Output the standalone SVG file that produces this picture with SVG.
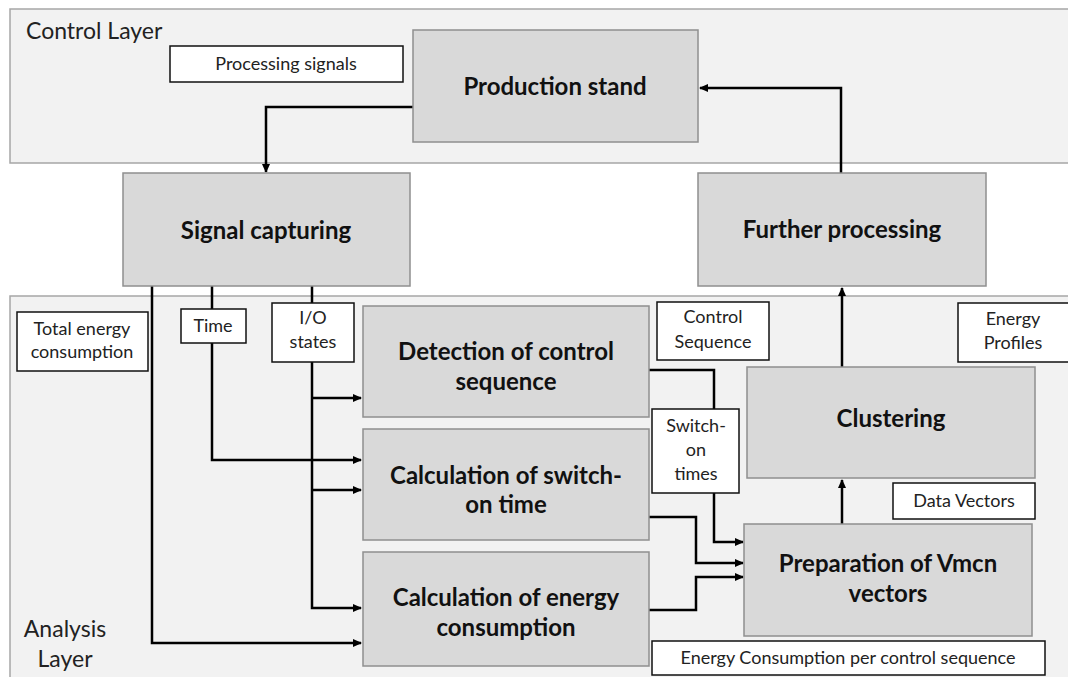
<svg xmlns="http://www.w3.org/2000/svg" width="1068" height="677" viewBox="0 0 1068 677">
  <defs>
    <marker id="arrow" markerWidth="9" markerHeight="8" refX="8" refY="4" orient="auto" markerUnits="userSpaceOnUse">
      <path d="M0,0 L9,4 L0,8 Z" fill="#000"/>
    </marker>
    <style>
      .layer { fill: #f2f2f2; stroke: #a6a6a6; stroke-width: 1.5; }
      .layer-title { font-family: Lato, "Liberation Sans", sans-serif; font-size: 23px; fill: #222; }
      .node rect { fill: #d9d9d9; stroke: #8f8f8f; stroke-width: 1.5; }
      .node text { font-family: Lato, "Liberation Sans", sans-serif; font-weight: bold; font-size: 24px; fill: #111; text-anchor: middle; }
      .tag rect { fill: #fff; stroke: #111; stroke-width: 1.5; }
      .tag text { font-family: Lato, "Liberation Sans", sans-serif; font-size: 18px; fill: #222; text-anchor: middle; }
      .conn path { fill: none; stroke: #000; stroke-width: 2.5; }
    </style>
  </defs>

  <rect width="1068" height="677" fill="#fff"/>

  <!-- layers -->
  <g id="control-layer">
    <rect class="layer" x="10" y="9" width="1070" height="154"/>
    <text class="layer-title" x="26" y="39">Control Layer</text>
  </g>
  <g id="analysis-layer">
    <rect class="layer" x="10" y="296" width="1070" height="400"/>
    <text class="layer-title" x="65" y="637" text-anchor="middle">Analysis</text>
    <text class="layer-title" x="65" y="667" text-anchor="middle">Layer</text>
  </g>

  <!-- connectors -->
  <g id="connectors" class="conn">
    <path d="M413,107 H266 V172" marker-end="url(#arrow)"/>
    <path d="M841,173 V88 H700" marker-end="url(#arrow)"/>
    <path d="M842,367 V288" marker-end="url(#arrow)"/>
    <path d="M842,524 V480" marker-end="url(#arrow)"/>
    <path d="M152,286 V643 H361" marker-end="url(#arrow)"/>
    <path d="M212,286 V460 H361" marker-end="url(#arrow)"/>
    <path d="M312,286 V608 H361" marker-end="url(#arrow)"/>
    <path d="M312,398 H361" marker-end="url(#arrow)"/>
    <path d="M312,490 H361" marker-end="url(#arrow)"/>
    <path d="M649,370 H714 V409"/>
    <path d="M714,493 V542 H743" marker-end="url(#arrow)"/>
    <path d="M649,517 H696 V563 H743" marker-end="url(#arrow)"/>
    <path d="M649,610 H696 V577 H743" marker-end="url(#arrow)"/>
  </g>

  <!-- process nodes -->
  <g id="production-stand" class="node">
    <rect x="413" y="30" width="285" height="112"/>
    <text x="555" y="95">Production stand</text>
  </g>
  <g id="signal-capturing" class="node">
    <rect x="123" y="173" width="287" height="113"/>
    <text x="266" y="239">Signal capturing</text>
  </g>
  <g id="further-processing" class="node">
    <rect x="698" y="173" width="288" height="113"/>
    <text x="842" y="238">Further processing</text>
  </g>
  <g id="detection" class="node">
    <rect x="363" y="306" width="286" height="111"/>
    <text x="506" y="360">Detection of control</text>
    <text x="506" y="390">sequence</text>
  </g>
  <g id="calc-switch-on" class="node">
    <rect x="363" y="429" width="286" height="111"/>
    <text x="506" y="484">Calculation of switch-</text>
    <text x="506" y="513">on time</text>
  </g>
  <g id="calc-energy" class="node">
    <rect x="363" y="552" width="286" height="114"/>
    <text x="506" y="606">Calculation of energy</text>
    <text x="506" y="636">consumption</text>
  </g>
  <g id="clustering" class="node">
    <rect x="747" y="367" width="288" height="111"/>
    <text x="891" y="427">Clustering</text>
  </g>
  <g id="preparation" class="node">
    <rect x="744" y="524" width="288" height="112"/>
    <text x="888" y="572">Preparation of Vmcn</text>
    <text x="888" y="602">vectors</text>
  </g>

  <!-- data labels -->
  <g id="label-processing-signals" class="tag">
    <rect x="170" y="46" width="233" height="36"/>
    <text x="286" y="70">Processing signals</text>
  </g>
  <g id="label-total-energy" class="tag">
    <rect x="17" y="312" width="131" height="59"/>
    <text x="82" y="335">Total energy</text>
    <text x="82" y="358">consumption</text>
  </g>
  <g id="label-time" class="tag">
    <rect x="181" y="309" width="65" height="34"/>
    <text x="213" y="332">Time</text>
  </g>
  <g id="label-io-states" class="tag">
    <rect x="272" y="303" width="82" height="59"/>
    <text x="313" y="324">I/O</text>
    <text x="313" y="348">states</text>
  </g>
  <g id="label-control-sequence" class="tag">
    <rect x="657" y="302" width="112" height="58"/>
    <text x="713" y="323">Control</text>
    <text x="713" y="348">Sequence</text>
  </g>
  <g id="label-energy-profiles" class="tag">
    <rect x="958" y="303" width="115" height="59"/>
    <text x="1013" y="325">Energy</text>
    <text x="1013" y="349">Profiles</text>
  </g>
  <g id="label-switch-on-times" class="tag">
    <rect x="652" y="409" width="87" height="84"/>
    <text x="696" y="432">Switch-</text>
    <text x="696" y="456">on</text>
    <text x="696" y="480">times</text>
  </g>
  <g id="label-data-vectors" class="tag">
    <rect x="893" y="483" width="142" height="36"/>
    <text x="964" y="507">Data Vectors</text>
  </g>
  <g id="label-energy-per-sequence" class="tag">
    <rect x="652" y="641" width="393" height="34"/>
    <text x="848" y="664">Energy Consumption per control sequence</text>
  </g>
</svg>
